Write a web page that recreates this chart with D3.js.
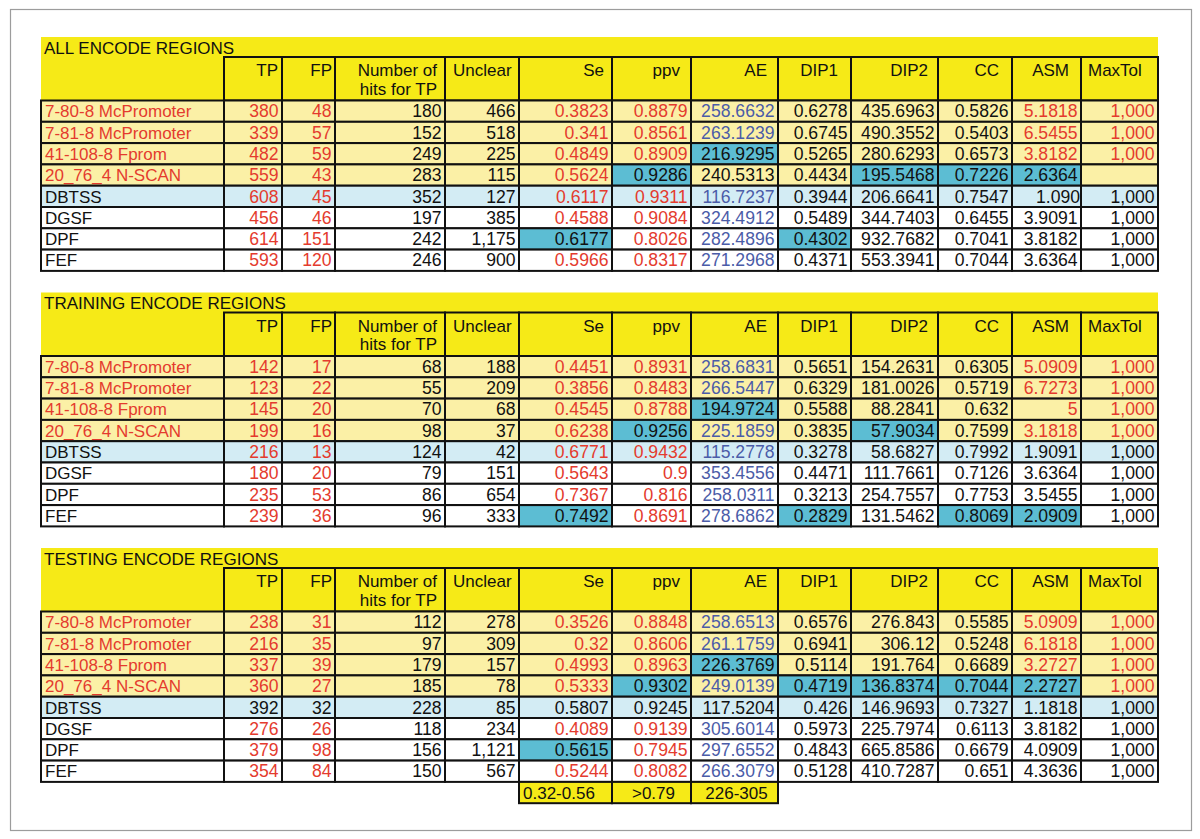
<!DOCTYPE html>
<html>
<head>
<meta charset="utf-8">
<script src="https://cdn.jsdelivr.net/npm/d3@7"></script>
<style>
  html, body { margin: 0; padding: 0; background: #ffffff; }
  svg { display: block; }
  text { font-family: "Liberation Sans", Arial, Helvetica, sans-serif; font-size: 17px; }
  text.val { font-size: 17.6px; }
</style>
</head>
<body>
<svg id="chart" width="1200" height="839"></svg>
<script>
// ---------------- DATA ----------------
const sectionTitles = ["ALL ENCODE REGIONS", "TRAINING ENCODE REGIONS", "TESTING ENCODE REGIONS"];
const columnLabels = ["", "TP", "FP", "Number of|hits for TP", "Unclear", "Se", "ppv", "AE", "DIP1", "DIP2", "CC", "ASM", "MaxTol"];
const methods = ["7-80-8 McPromoter", "7-81-8 McPromoter", "41-108-8 Fprom", "20_76_4 N-SCAN", "DBTSS", "DGSF", "DPF", "FEF"];
const methodGroups = ["model", "model", "model", "model", "reference", "other", "other", "other"];

const allValues = [
  ["380", "48", "180", "466", "0.3823", "0.8879", "258.6632", "0.6278", "435.6963", "0.5826", "5.1818", "1,000"],
  ["339", "57", "152", "518", "0.341", "0.8561", "263.1239", "0.6745", "490.3552", "0.5403", "6.5455", "1,000"],
  ["482", "59", "249", "225", "0.4849", "0.8909", "216.9295", "0.5265", "280.6293", "0.6573", "3.8182", "1,000"],
  ["559", "43", "283", "115", "0.5624", "0.9286", "240.5313", "0.4434", "195.5468", "0.7226", "2.6364", ""],
  ["608", "45", "352", "127", "0.6117", "0.9311", "116.7237", "0.3944", "206.6641", "0.7547", "1.090", "1,000"],
  ["456", "46", "197", "385", "0.4588", "0.9084", "324.4912", "0.5489", "344.7403", "0.6455", "3.9091", "1,000"],
  ["614", "151", "242", "1,175", "0.6177", "0.8026", "282.4896", "0.4302", "932.7682", "0.7041", "3.8182", "1,000"],
  ["593", "120", "246", "900", "0.5966", "0.8317", "271.2968", "0.4371", "553.3941", "0.7044", "3.6364", "1,000"]
];
const trainingValues = [
  ["142", "17", "68", "188", "0.4451", "0.8931", "258.6831", "0.5651", "154.2631", "0.6305", "5.0909", "1,000"],
  ["123", "22", "55", "209", "0.3856", "0.8483", "266.5447", "0.6329", "181.0026", "0.5719", "6.7273", "1,000"],
  ["145", "20", "70", "68", "0.4545", "0.8788", "194.9724", "0.5588", "88.2841", "0.632", "5", "1,000"],
  ["199", "16", "98", "37", "0.6238", "0.9256", "225.1859", "0.3835", "57.9034", "0.7599", "3.1818", "1,000"],
  ["216", "13", "124", "42", "0.6771", "0.9432", "115.2778", "0.3278", "58.6827", "0.7992", "1.9091", "1,000"],
  ["180", "20", "79", "151", "0.5643", "0.9", "353.4556", "0.4471", "111.7661", "0.7126", "3.6364", "1,000"],
  ["235", "53", "86", "654", "0.7367", "0.816", "258.0311", "0.3213", "254.7557", "0.7753", "3.5455", "1,000"],
  ["239", "36", "96", "333", "0.7492", "0.8691", "278.6862", "0.2829", "131.5462", "0.8069", "2.0909", "1,000"]
];
const testingValues = [
  ["238", "31", "112", "278", "0.3526", "0.8848", "258.6513", "0.6576", "276.843", "0.5585", "5.0909", "1,000"],
  ["216", "35", "97", "309", "0.32", "0.8606", "261.1759", "0.6941", "306.12", "0.5248", "6.1818", "1,000"],
  ["337", "39", "179", "157", "0.4993", "0.8963", "226.3769", "0.5114", "191.764", "0.6689", "3.2727", "1,000"],
  ["360", "27", "185", "78", "0.5333", "0.9302", "249.0139", "0.4719", "136.8374", "0.7044", "2.2727", "1,000"],
  ["392", "32", "228", "85", "0.5807", "0.9245", "117.5204", "0.426", "146.9693", "0.7327", "1.1818", "1,000"],
  ["276", "26", "118", "234", "0.4089", "0.9139", "305.6014", "0.5973", "225.7974", "0.6113", "3.8182", "1,000"],
  ["379", "98", "156", "1,121", "0.5615", "0.7945", "297.6552", "0.4843", "665.8586", "0.6679", "4.0909", "1,000"],
  ["354", "84", "150", "567", "0.5244", "0.8082", "266.3079", "0.5128", "410.7287", "0.651", "4.3636", "1,000"]
];

// text colour codes per cell (name column first): r = red, b = blue, k = black
const allTextCodes = ["rrrkkrrbkkkrr", "rrrkkrrbkkkrr", "rrrkkrrkkkkrr", "rrrkkrkkkkkkk", "krrkkrrbkkkkk", "krrkkrrbkkkkk", "krrkkkrbkkkkk", "krrkkrrbkkkkk"];
const trainingTextCodes = ["rrrkkrrbkkkrr", "rrrkkrrbkkkrr", "rrrkkrrkkkkrr", "rrrkkrkbkkkrr", "krrkkrrbkkkkk", "krrkkrrbkkkkk", "krrkkrrbkkkkk", "krrkkkrbkkkkk"];
const testingTextCodes = ["rrrkkrrbkkkrr", "rrrkkrrbkkkrr", "rrrkkrrkkkkrr", "rrrkkrkbkkkkr", "kkkkkkkkkkkkk", "krrkkrrbkkkkk", "krrkkkrbkkkkk", "krrkkrrbkkkkk"];

// best-value highlight flags per cell (name column first)
const allBest = ["0000000000000", "0000000000000", "0000000100000", "0000001001110", "0000000000000", "0000000000000", "0000010010000", "0000000000000"];
const trainingBest = ["0000000000000", "0000000000000", "0000000100000", "0000001001000", "0000000000000", "0000000000000", "0000000000000", "0000010010110"];
const testingBest = ["0000000000000", "0000000000000", "0000000100000", "0000001011110", "0000000000000", "0000000000000", "0000010000000", "0000000000000"];

const rangeColumns = ["Se", "ppv", "AE"];
const rangeLabels = ["0.32-0.56", ">0.79", "226-305"];

// ---------------- LAYOUT / STYLE ----------------
const colWidths = [183, 58, 53, 110, 74, 93, 79, 87, 73, 87, 74, 69, 77];
const tableLeft = 41;
const colEdges = [tableLeft, ...Array.from(d3.cumsum(colWidths), v => tableLeft + v)];
const headerAlign = [null, ["end", 4], ["end", 3], ["end", 8], ["start", 8], ["end", 8], ["end", 11], ["end", 11], ["end", 13], ["end", 10], ["end", 13], ["end", 12], ["start", 7]];
const sectionTops = [37, 292.5, 548];
const titleH = 20, headerH = 43.5, rowH = 21.3;

const C = {
  yellow: "#f6ea17",
  pale: "#fbf0a6",
  lightBlue: "#d3ecf4",
  teal: "#5cbdd3",
  white: "#ffffff",
  red: "#e43b2e",
  blue: "#4b5ca8",
  black: "#111111",
  border: "#111111"
};
const textColor = { r: C.red, b: C.blue, k: C.black };
const groupFill = { model: C.pale, reference: C.lightBlue, other: C.white };

const sections = [
  { title: sectionTitles[0], values: allValues, codes: allTextCodes, best: allBest },
  { title: sectionTitles[1], values: trainingValues, codes: trainingTextCodes, best: trainingBest },
  { title: sectionTitles[2], values: testingValues, codes: testingTextCodes, best: testingBest }
];

// ---------------- DRAW ----------------
const svg = d3.select("#chart");

svg.append("rect")
  .attr("x", 10.5).attr("y", 9.5).attr("width", 1181).attr("height", 821)
  .attr("fill", "#ffffff").attr("stroke", "#9c9c9c").attr("stroke-width", 1.2);

const xLeft = i => colEdges[i];
const xRight = i => colEdges[i + 1];
const tableRight = colEdges[colEdges.length - 1];

sections.forEach((sec, si) => {
  const top = sectionTops[si];
  const g = svg.append("g");
  const headerTop = top + titleH;
  const dataTop = headerTop + headerH;
  const y = d3.scaleBand().domain(d3.range(methods.length)).range([dataTop, dataTop + methods.length * rowH]).padding(0);

  // title band + header band
  g.append("rect").attr("x", tableLeft).attr("y", top).attr("width", tableRight - tableLeft).attr("height", titleH + headerH).attr("fill", C.yellow);
  g.append("text").attr("x", tableLeft + 3).attr("y", top + 16.8).attr("fill", C.black).text(sec.title);

  // header cells
  columnLabels.forEach((lab, ci) => {
    if (ci === 0) return;
    g.append("rect").attr("x", xLeft(ci)).attr("y", headerTop).attr("width", xRight(ci) - xLeft(ci)).attr("height", headerH)
      .attr("fill", C.yellow).attr("stroke", C.border).attr("stroke-width", 2);
    const [anchor, pad] = headerAlign[ci];
    const tx = anchor === "end" ? xRight(ci) - pad : xLeft(ci) + pad;
    lab.split("|").forEach((line, li) => {
      g.append("text").attr("x", tx).attr("y", headerTop + 19.2 + li * 18.5).attr("text-anchor", anchor).attr("fill", C.black).text(line);
    });
  });

  // data rows
  methods.forEach((m, ri) => {
    const cells = [m, ...sec.values[ri]];
    cells.forEach((val, ci) => {
      const isBest = sec.best[ri][ci] === "1";
      g.append("rect").attr("x", xLeft(ci)).attr("y", y(ri)).attr("width", xRight(ci) - xLeft(ci)).attr("height", y.bandwidth())
        .attr("fill", isBest ? C.teal : groupFill[methodGroups[ri]])
        .attr("stroke", C.border).attr("stroke-width", 2);
      const col = textColor[sec.codes[ri][ci]];
      let anchor = ci === 0 ? "start" : "end";
      let tx = ci === 0 ? xLeft(ci) + 4 : xRight(ci) - 3.5;
      if (si === 0 && ri === 4 && ci === 11) { anchor = "start"; tx = xLeft(ci) + 24; }
      g.append("text").attr("class", ci === 0 ? null : "val")
        .attr("x", tx).attr("y", y(ri) + 16.8).attr("text-anchor", anchor).attr("fill", col).text(val);
    });
  });

  // reference range row (testing section only)
  if (si === 2) {
    const ry = dataTop + methods.length * rowH;
    rangeColumns.forEach((cname, k) => {
      const ci = columnLabels.indexOf(cname);
      g.append("rect").attr("x", xLeft(ci)).attr("y", ry).attr("width", xRight(ci) - xLeft(ci)).attr("height", rowH)
        .attr("fill", C.yellow).attr("stroke", C.border).attr("stroke-width", 2);
      const anchor = k === 0 ? "start" : "middle";
      const tx = k === 0 ? xLeft(ci) + 4 : (xLeft(ci) + xRight(ci)) / 2 + 2;
      g.append("text").attr("x", tx).attr("y", ry + 16.8).attr("text-anchor", anchor).attr("fill", C.black).text(rangeLabels[k]);
    });
  }
});
</script>
</body>
</html>
